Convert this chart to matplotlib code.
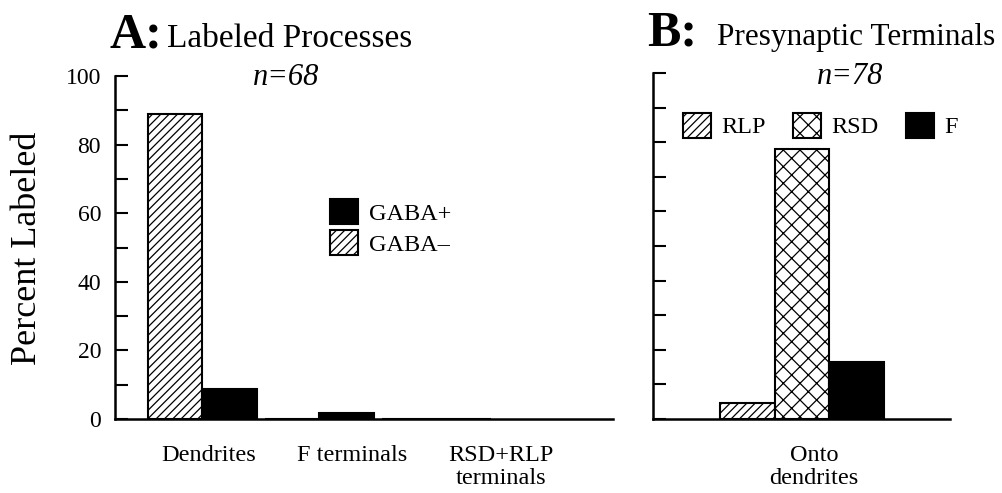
import numpy as np
import matplotlib
matplotlib.use("Agg")
import matplotlib.pyplot as plt

plt.rcParams["font.family"] = ["Liberation Serif", "DejaVu Serif"]
plt.rcParams["hatch.linewidth"] = 0.9

# Panel A: labeled processes (n=68)
categories_a = ["Dendrites", "F terminals", "RSD+RLP\nterminals"]
gaba_pos = [8.8, 1.7, 0.0]
gaba_neg = [89.0, 0.0, 0.0]

# Panel B: presynaptic terminals onto dendrites (n=78)
categories_b = ["Onto\ndendrites"]
rlp = [4.7]
rsd = [78.0]
f_term = [16.5]

y_ticks = [0, 20, 40, 60, 80, 100]

W, H = 1003, 493


def px_axes(fig, left, right, top, bottom):
    return fig.add_axes([left / W, (H - bottom) / H, (right - left) / W, (bottom - top) / H])


def style_axis(ax):
    ax.set_ylim(0, 100)
    ax.set_yticks(y_ticks)
    ax.set_yticks(np.arange(0, 101, 10), minor=True)
    ax.spines["top"].set_visible(False)
    ax.spines["right"].set_visible(False)
    ax.spines["left"].set_linewidth(1.8)
    ax.spines["bottom"].set_linewidth(1.8)
    ax.tick_params(axis="y", which="both", direction="in", length=9, width=1.5, labelsize=17, pad=10)
    ax.tick_params(axis="x", length=0, labelsize=17.5, pad=19)


def main():
    fig = plt.figure(figsize=(W / 100, H / 100), dpi=100)

    # ---- panel A ----
    ax = px_axes(fig, 115, 613, 76, 419)
    bw = 1.0
    group = np.arange(3) * 2.15 + 1.6
    label_x = np.array([1.71, 4.35, 7.08])
    ax.set_xlim(0, 498 / 54.5)
    h_neg = ax.bar(group - bw / 2, gaba_neg, bw, color="white", edgecolor="black",
                   hatch="////", linewidth=1.5)
    h_pos = ax.bar(group + bw / 2, gaba_pos, bw, color="black", edgecolor="black",
                   linewidth=1.5)
    style_axis(ax)
    ax.set_xticks(label_x)
    ax.set_xticklabels(categories_a, linespacing=1.1)
    ax.legend([h_pos, h_neg], ["GABA+", "GABA–"], frameon=False, fontsize=17.5,
              loc="upper left", bbox_to_anchor=(0.431, 0.642), handlelength=1.15,
              handleheight=1.25, handletextpad=0.45, labelspacing=0.2,
              borderaxespad=0, borderpad=0)

    # ---- panel B ----
    bx = px_axes(fig, 653, 950, 73, 419)
    bx.set_xlim(0, 297 / 54.5)
    x0 = np.array([1.23])
    hb1 = bx.bar(x0 + 0.5, rlp, bw, color="white", edgecolor="black", hatch="////", linewidth=1.5)
    hb2 = bx.bar(x0 + 1.5, rsd, bw, color="white", edgecolor="black", hatch="xx", linewidth=1.5)
    hb3 = bx.bar(x0 + 2.5, f_term, bw, color="black", edgecolor="black", linewidth=1.5)
    style_axis(bx)
    bx.set_yticklabels([])
    bx.set_xticks([2.95])
    bx.set_xticklabels(categories_b, linespacing=1.1)
    bx.legend([hb1, hb2, hb3], ["RLP", "RSD", "F"], frameon=False, fontsize=17.5, ncol=3,
              loc="upper left", bbox_to_anchor=(0.1, 0.885), handlelength=1.15,
              handleheight=1.2, handletextpad=0.45, columnspacing=1.1,
              borderaxespad=0, borderpad=0)

    # ---- titles and labels ----
    fig.text(110 / W, (H - 47) / H, "A:", fontsize=36, fontweight="bold", va="baseline")
    fig.text(167 / W, (H - 47) / H, "Labeled Processes", fontsize=24, va="baseline")
    fig.text(286 / W, (H - 85) / H, "n=68", fontsize=22, style="italic", ha="center", va="baseline")
    fig.text(647 / W, (H - 45) / H, "B:", fontsize=36, fontweight="bold", va="baseline")
    fig.text(717 / W, (H - 45) / H, "Presynaptic Terminals", fontsize=22.5, va="baseline")
    fig.text(850 / W, (H - 84) / H, "n=78", fontsize=22, style="italic", ha="center", va="baseline")
    fig.text(28 / W, (H - 248) / H, "Percent Labeled", fontsize=26, rotation=90,
             ha="center", va="center")

    fig.savefig("out.png", dpi=100)


if __name__ == "__main__":
    main()
